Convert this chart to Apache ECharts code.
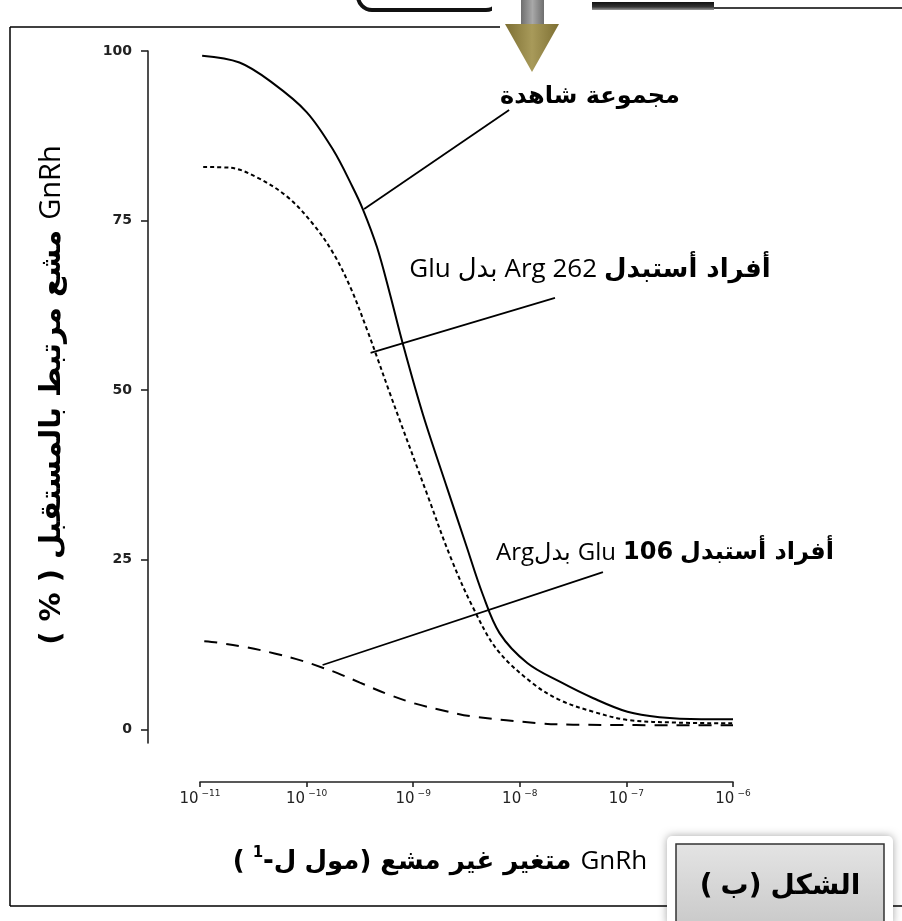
<!DOCTYPE html>
<html><head><meta charset="utf-8">
<script src="https://cdn.jsdelivr.net/npm/echarts@6/dist/echarts.min.js"></script>
<style>html,body{margin:0;padding:0;background:#fff}#c{width:902px;height:921px}</style>
</head><body><div id="c"></div>
<script>
// x values are log10 of concentration (mol/L)
const xTicks = [-11, -10, -9, -8, -7, -6];
const yTicks = [0, 25, 50, 75, 100];

const controlX = [-10.98,-10.63,-10.32,-10.00,-9.75,-9.57,-9.47,-9.34,-9.22,-9.10,-8.91,-8.68,-8.50,-8.35,-8.19,-7.93,-7.62,-7.31,-6.99,-6.69,-6.30,-6.00];
const controlY = [99.3,98.3,95.3,91.0,85.4,80.0,76.6,71.1,64.3,57.0,46.5,35.5,27.0,20.0,14.2,9.8,7.0,4.6,2.6,1.8,1.5,1.5];

const arg262X = [-10.97,-10.72,-10.47,-10.18,-9.94,-9.75,-9.59,-9.43,-9.34,-9.22,-9.12,-8.87,-8.65,-8.44,-8.21,-7.88,-7.62,-7.31,-6.99,-6.50,-6.00];
const arg262Y = [82.9,82.8,81.4,78.5,74.5,70.2,65.2,58.8,54.9,49.6,45.3,34.7,25.4,18.0,11.7,6.8,4.3,2.6,1.4,1.0,0.9];

const glu106X = [-10.96,-10.84,-10.56,-10.30,-10.04,-9.85,-9.71,-9.50,-9.24,-8.98,-8.72,-8.44,-7.81,-7.50,-6.00];
const glu106Y = [13.0,12.8,12.1,11.2,10.1,9.1,8.3,6.9,5.2,3.8,2.8,1.9,0.9,0.7,0.6];

// annotation arrows [fromX, fromY, toX, toY] in data space
const arrowControl = [-8.10, 91.3, -9.46, 76.7];
const arrowArg262 = [-7.67, 63.6, -9.40, 55.5];
const arrowGlu106 = [-7.22, 23.2, -9.85, 9.5];

function pairs(xs, ys) { return xs.map((x, i) => [x, ys[i]]); }
function arrowLine(a) {
  return {
    silent: true, symbol: ['none', 'arrow'], symbolSize: [0, 11],
    lineStyle: { color: '#000', width: 1.8, type: 'solid' },
    label: { show: false },
    data: [[{ coord: [a[0], a[1]] }, { coord: [a[2], a[3]] }]]
  };
}

const AR = '"DejaVu Sans", sans-serif';
const LAT = '"Open Sans", "DejaVu Sans", sans-serif';
const mctx = document.createElement('canvas').getContext('2d');
// pieces listed in visual left-to-right order; each piece is drawn on its own
function textRow(pieces, cx, cy, rot) {
  const ws = pieces.map(p => { if (p.gap) return p.gap; mctx.font = p.font; return mctx.measureText(p.t).width; });
  const total = ws.reduce((a, b) => a + b, 0);
  let x = -total / 2;
  const children = [];
  pieces.forEach((p, i) => {
    if (!p.gap) children.push({ type: 'text', x: x, y: p.dy || 0,
      style: { text: p.t, font: p.font, fill: '#000', align: 'left', verticalAlign: 'middle' } });
    x += ws[i];
  });
  return { type: 'group', x: cx, y: cy, rotation: rot || 0, children };
}
const g = w => ({ gap: w });

const yNameFontB = 'bold 29px ' + AR, yNameFontR = '29px ' + LAT;
const xNameFontB = 'bold 26px ' + AR, xNameFontR = '26px ' + LAT;
const annFontB = 'bold 26px ' + AR, annFontR = '26px ' + LAT;

const chart = echarts.init(document.getElementById('c'), null, { renderer: 'canvas' });
chart.setOption({
  animation: false,
  backgroundColor: '#fff',
  grid: { left: 200, right: 169, top: 51, bottom: 178 },
  xAxis: {
    type: 'value', min: -11, max: -6, interval: 1, offset: 39,
    axisLine: { show: true, onZero: false, lineStyle: { color: '#222', width: 1.6 } },
    axisTick: { show: true, length: 5, lineStyle: { color: '#222', width: 1.6 } },
    splitLine: { show: false },
    axisLabel: {
      margin: 7,
      formatter: v => '{b|10}{s|' + (v < 0 ? '−' : '') + Math.abs(v) + '}',
      rich: {
        b: { fontFamily: AR, fontSize: 15, color: '#222', verticalAlign: 'bottom', lineHeight: 18 },
        s: { fontFamily: AR, fontSize: 9, color: '#222', verticalAlign: 'top', lineHeight: 18, padding: [0, 0, 8, 3] }
      }
    }
  },
  yAxis: {
    type: 'value', min: -2, max: 100, offset: 52,
    axisLine: { show: true, lineStyle: { color: '#222', width: 1.6 } },
    axisTick: { show: true, length: 7, customValues: yTicks, lineStyle: { color: '#222', width: 1.6 } },
    splitLine: { show: false },
    axisLabel: { customValues: yTicks, margin: 16, fontFamily: AR, fontSize: 14, fontWeight: 'bold', color: '#222' }
  },
  series: [
    { type: 'line', name: 'control', data: pairs(controlX, controlY), smooth: 0.35, showSymbol: false, symbol: 'none',
      lineStyle: { color: '#000', width: 2, type: 'solid' }, markLine: arrowLine(arrowControl) },
    { type: 'line', name: 'arg262', data: pairs(arg262X, arg262Y), smooth: 0.35, showSymbol: false, symbol: 'none',
      lineStyle: { color: '#000', width: 2, type: [4, 3] }, markLine: arrowLine(arrowArg262) },
    { type: 'line', name: 'glu106', data: pairs(glu106X, glu106Y), smooth: 0.35, showSymbol: false, symbol: 'none',
      lineStyle: { color: '#000', width: 2, type: [13, 9] }, markLine: arrowLine(arrowGlu106) }
  ],
  graphic: [
    // frame
    { type: 'line', shape: { x1: 10, y1: 27, x2: 10, y2: 906 }, style: { stroke: '#000', lineWidth: 1.5 } },
    { type: 'line', shape: { x1: 10, y1: 27, x2: 500, y2: 27 }, style: { stroke: '#000', lineWidth: 1.5 } },
    { type: 'line', shape: { x1: 10, y1: 906, x2: 668, y2: 906 }, style: { stroke: '#000', lineWidth: 1.5 } },
    { type: 'line', shape: { x1: 886, y1: 906, x2: 902, y2: 906 }, style: { stroke: '#000', lineWidth: 1.5 } },
    { type: 'rect', shape: { x: 592, y: 2, width: 122, height: 8 },
      style: { fill: new echarts.graphic.LinearGradient(0, 0, 0, 1, [{ offset: 0, color: '#111' }, { offset: 0.6, color: '#333' }, { offset: 1, color: '#999' }]) } },
    { type: 'line', shape: { x1: 714, y1: 8, x2: 902, y2: 8 }, style: { stroke: '#000', lineWidth: 1.5 } },
    { type: 'rect', shape: { x: 358, y: -30, width: 142, height: 40, r: 14 }, style: { fill: 'none', stroke: '#111', lineWidth: 4 } },
    { type: 'rect', shape: { x: 492, y: -5, width: 12, height: 30 }, style: { fill: '#fff' } },
    // top arrow
    { type: 'rect', shape: { x: 521, y: 0, width: 23, height: 26 },
      style: { fill: new echarts.graphic.LinearGradient(0, 0, 1, 0, [{ offset: 0, color: '#6e6e6e' }, { offset: 0.5, color: '#a8a8a8' }, { offset: 1, color: '#6e6e6e' }]) } },
    { type: 'polygon', shape: { points: [[505, 24], [559, 24], [532, 72]] },
      style: { fill: new echarts.graphic.LinearGradient(0, 0, 1, 0, [{ offset: 0, color: '#7d6f33' }, { offset: 0.5, color: '#a89a5a' }, { offset: 1, color: '#7d6f33' }]) } },
    // y axis name (reads bottom to top)
    textRow([
      { t: '( % )', font: yNameFontB }, g(10),
      { t: 'مشع مرتبط بالمستقبل', font: yNameFontB }, g(10),
      { t: 'GnRh', font: yNameFontR }
    ], 52, 395, Math.PI / 2),
    // x axis name
    textRow([
      { t: '(', font: xNameFontB }, g(8),
      { t: '1', font: 'bold 15px ' + AR, dy: -9 },
      { t: '-', font: xNameFontB },
      { t: 'ل', font: xNameFontB }, g(8),
      { t: 'مول', font: xNameFontB },
      { t: ')', font: xNameFontB }, g(9),
      { t: 'متغير غير مشع', font: xNameFontB }, g(9),
      { t: 'GnRh', font: xNameFontR }
    ], 440, 862),
    // annotation labels
    textRow([{ t: 'مجموعة شاهدة', font: 'bold 24px ' + AR }], 590, 97),
    textRow([
      { t: 'Glu', font: annFontR }, g(7),
      { t: 'بدل', font: annFontR }, g(7),
      { t: 'Arg 262', font: annFontR }, g(7),
      { t: 'أفراد أستبدل', font: annFontB }
    ], 590, 270),
    textRow([
      { t: 'Arg', font: '24px ' + LAT },
      { t: 'بدل', font: '24px ' + LAT }, g(7),
      { t: 'Glu', font: '24px ' + LAT }, g(7),
      { t: '106', font: 'bold 24px ' + AR }, g(7),
      { t: 'أفراد أستبدل', font: 'bold 24px ' + AR }
    ], 665, 553),
    // figure label box
    { type: 'rect', shape: { x: 667, y: 836, width: 226, height: 90, r: 5 },
      style: { fill: '#fff', shadowBlur: 8, shadowColor: 'rgba(0,0,0,0.35)' } },
    { type: 'rect', shape: { x: 676, y: 844, width: 208, height: 85 },
      style: { fill: new echarts.graphic.LinearGradient(0, 0, 0, 1, [{ offset: 0, color: '#e4e4e4' }, { offset: 1, color: '#c8c8c8' }]), stroke: '#333', lineWidth: 1.5 } },
    textRow([
      { t: '(', font: 'bold 28px ' + AR }, g(8),
      { t: 'ب', font: 'bold 28px ' + AR },
      { t: ')', font: 'bold 28px ' + AR }, g(9),
      { t: 'الشكل', font: 'bold 28px ' + AR }
    ], 780, 887)
  ]
});
</script>
</body></html>
